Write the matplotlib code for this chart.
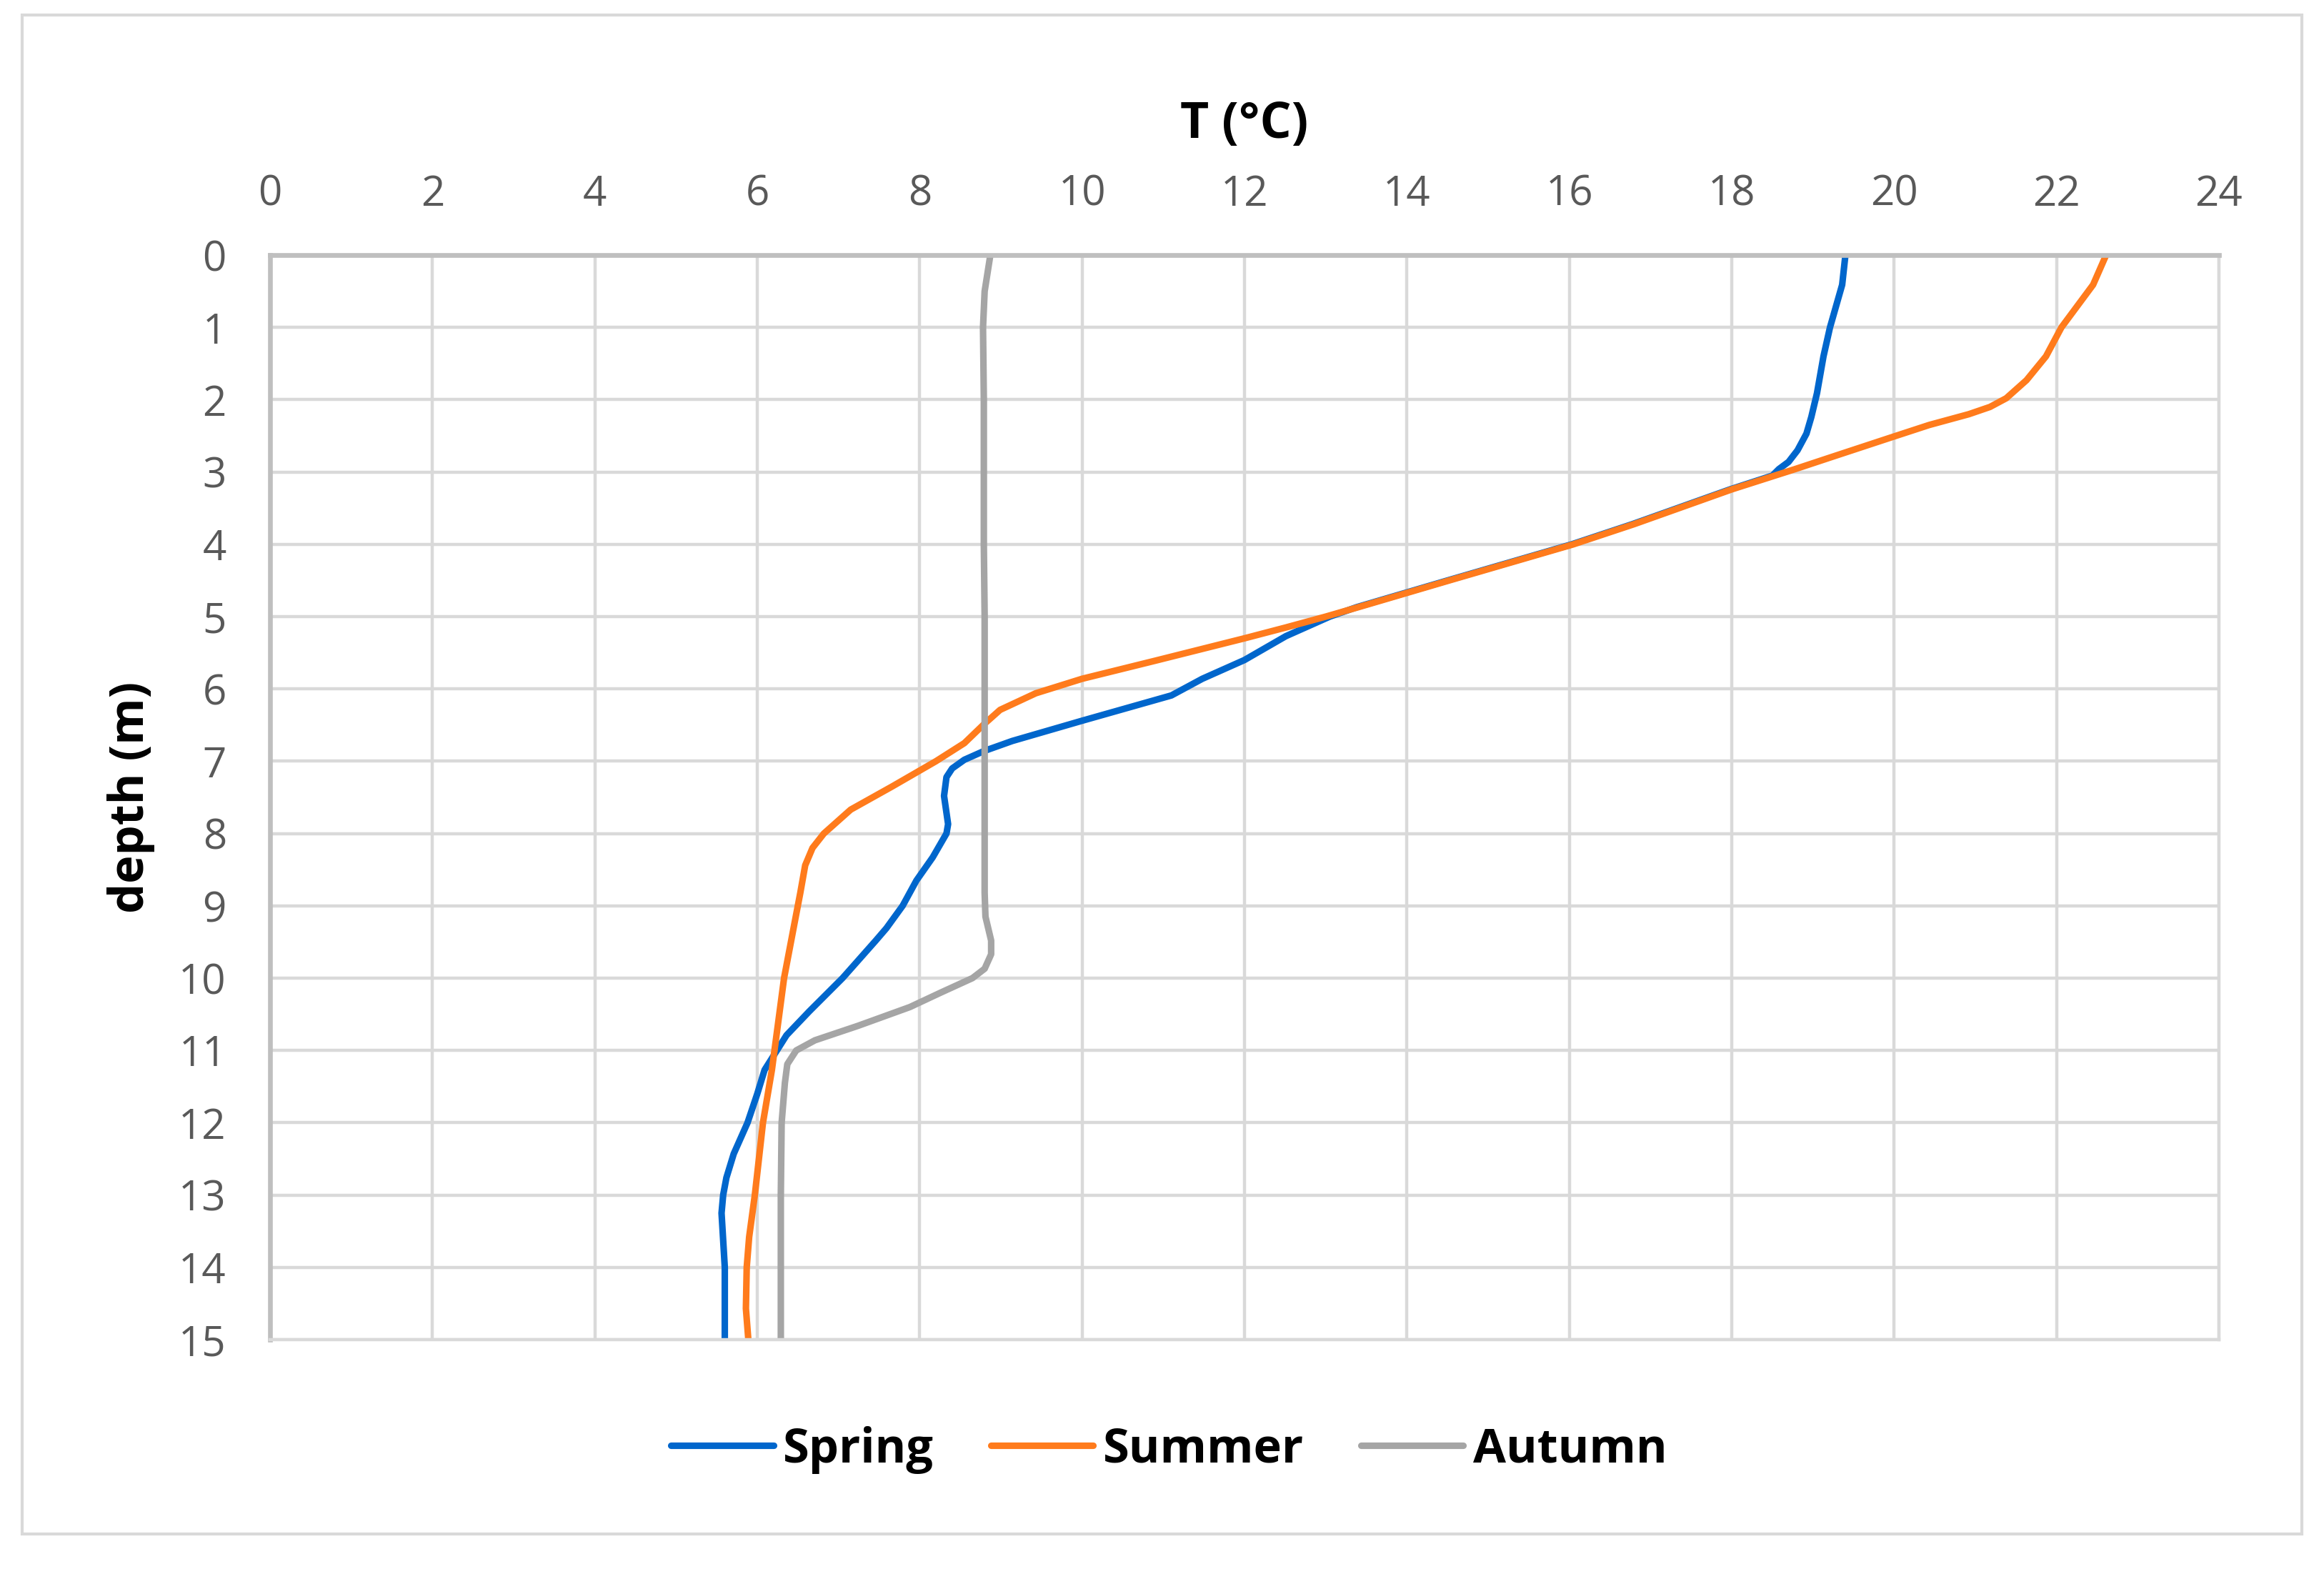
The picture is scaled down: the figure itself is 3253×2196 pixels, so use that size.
import matplotlib.pyplot as plt
from matplotlib.patches import Rectangle

# temperature profiles (depth in m, T in degC)
spring_depth = [0, 0.41, 1, 1.4, 1.91, 2.24, 2.47, 2.70, 2.86, 2.96, 3.05, 3.24, 3.5,
                3.72, 4.0, 4.5, 4.87, 5.0, 5.27, 5.6, 5.86, 6.09, 6.44, 6.72, 6.86,
                6.98, 7.1, 7.22, 7.48, 7.87, 8.0, 8.33, 8.65, 9.0, 9.31, 9.48, 10.0,
                10.46, 10.79, 11.27, 11.6, 12, 12.43, 12.76, 13.0, 13.25, 14, 15]
spring_temp = [19.40, 19.36, 19.21, 19.13, 19.05, 18.98, 18.92, 18.81, 18.70, 18.58,
               18.50, 17.98, 17.33, 16.78, 16.03, 14.50, 13.38, 13.05, 12.51, 12.0,
               11.48, 11.10, 10.0, 9.14, 8.79, 8.55, 8.40, 8.33, 8.30, 8.35, 8.33,
               8.16, 7.96, 7.79, 7.59, 7.46, 7.05, 6.64, 6.36, 6.09, 6.0, 5.88, 5.71,
               5.62, 5.58, 5.56, 5.6, 5.6]

summer_depth = [0, 0.41, 1, 1.4, 1.73, 1.98, 2.1, 2.2, 2.35, 2.53, 2.80, 2.96, 3.24,
                3.5, 3.72, 4.0, 4.5, 4.87, 5.0, 5.15, 5.30, 5.61, 5.86, 6.06, 6.29,
                6.49, 6.75, 7.0, 7.35, 7.67, 8.0, 8.2, 8.44, 8.82, 9.29, 10, 11.27, 12,
                13, 13.58, 14, 14.57, 15]
summer_temp = [22.61, 22.45, 22.06, 21.87, 21.63, 21.38, 21.18, 20.92, 20.43, 19.94,
               19.21, 18.78, 18.0, 17.35, 16.80, 16.05, 14.52, 13.40, 13.0, 12.51,
               12.0, 10.9, 10.0, 9.43, 8.99, 8.79, 8.55, 8.2, 7.66, 7.15, 6.82, 6.68,
               6.59, 6.53, 6.45, 6.33, 6.18, 6.07, 5.97, 5.90, 5.87, 5.86, 5.89]

autumn_depth = [0, 0.5, 1, 2, 3, 4, 5, 6, 7, 8, 8.82, 9.15, 9.48, 9.67, 9.87, 10.0,
                10.2, 10.4, 10.66, 10.86, 11.0, 11.19, 11.45, 12, 13, 14, 15]
autumn_temp = [8.87, 8.80, 8.78, 8.79, 8.79, 8.79, 8.80, 8.80, 8.80, 8.80, 8.80, 8.81,
               8.88, 8.88, 8.80, 8.65, 8.26, 7.88, 7.24, 6.71, 6.48, 6.37, 6.34, 6.30,
               6.29, 6.29, 6.29]

x_ticks = list(range(0, 25, 2))
y_ticks = list(range(0, 16))

plt.rcParams['font.family'] = ['Open Sans', 'DejaVu Sans']

fig = plt.figure(figsize=(16.265, 10.98), dpi=200)
ax = fig.add_axes([0.1162, 0.1462, 0.8386, 0.6912])

line_kw = dict(lw=3.3, solid_joinstyle='round', solid_capstyle='round')
ax.plot(spring_temp, spring_depth, color='#0066CC', label='Spring', **line_kw)
ax.plot(summer_temp, summer_depth, color='#FF7B1C', label='Summer', **line_kw)
ax.plot(autumn_temp, autumn_depth, color='#A5A5A5', label='Autumn', **line_kw)

ax.set_xlim(0, 24)
ax.set_ylim(15, 0)
ax.set_xticks(x_ticks)
ax.set_yticks(y_ticks)
ax.xaxis.tick_top()
ax.xaxis.set_label_position('top')
ax.tick_params(axis='both', length=0, labelsize=21, labelcolor='#595959')
ax.tick_params(axis='x', pad=20)
ax.tick_params(axis='y', pad=22)
ax.grid(True, color='#D9D9D9', lw=1.6)
ax.set_axisbelow(True)

for side in ['top', 'left']:
    ax.spines[side].set_color('#BFBFBF')
    ax.spines[side].set_linewidth(2.4)
for side in ['bottom', 'right']:
    ax.spines[side].set_color('#D9D9D9')
    ax.spines[side].set_linewidth(1.6)

ax.set_xlabel('T (°C)', fontsize=25, fontweight='bold', labelpad=18)
ax.set_ylabel('depth (m)', fontsize=24, fontweight='bold', labelpad=12)

fig.legend(loc='center', bbox_to_anchor=(0.503, 0.076), ncol=3, frameon=False,
           prop={'size': 24, 'weight': 'bold'}, handlelength=2.15,
           handletextpad=0.2, columnspacing=1.2)

# outer chart border
fig.patches.append(Rectangle((0.0095, 0.0223), 0.981, 0.968, transform=fig.transFigure,
                             fill=False, edgecolor='#D9D9D9', lw=1.5))

fig.savefig('out.png', dpi=200, facecolor='white')
